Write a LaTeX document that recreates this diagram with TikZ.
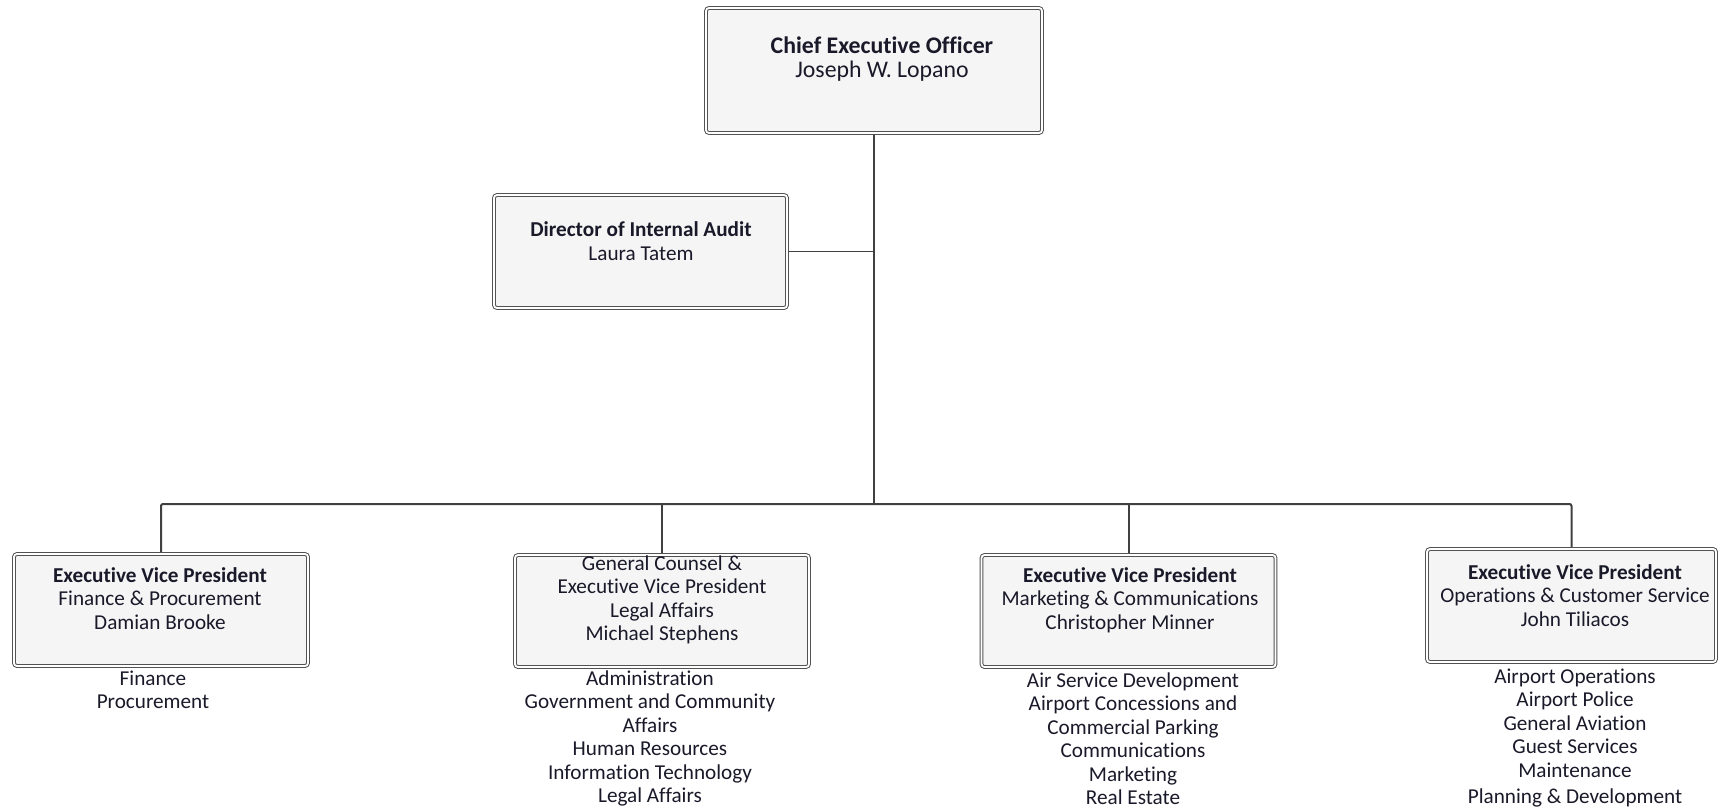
\documentclass[tikz,border=0pt]{standalone}
\usepackage{fontspec}
\setmainfont{Carlito}[Ligatures=NoCommon]
\usetikzlibrary{positioning,backgrounds}

\begin{document}
\begin{tikzpicture}[x=0.5pt,y=-0.5pt]

            \useasboundingbox (0,0) rectangle (1720,809);

            % DEF COORDINATES
            \coordinate (c_ceo) at (874,70.5);
            \coordinate (c_audit) at (640.5,251.5);
            \coordinate (c_evp1) at (161,610);
            \coordinate (c_evp2) at (662,611);
            \coordinate (c_evp3) at (1128.5,611);
            \coordinate (c_evp4) at (1571.5,605.5);
            \coordinate (bustop) at (874,504);

            % COLORS
            \definecolor{boxedgecolor}{rgb}{0.32,0.32,0.32}
            \definecolor{boxfillcolor}{rgb}{0.96,0.96,0.96}
            \definecolor{edgecolor}{rgb}{0.25,0.25,0.25}
            \definecolor{textcolor}{rgb}{0.1,0.1,0.16}

            % DEF STYLES
            \tikzstyle{boxstyle} = [draw=boxedgecolor, line width=0.5pt, double=white, double distance=0.9pt, rounded corners=1.5pt, fill=boxfillcolor, minimum width=147pt, minimum height=56pt, inner sep=0pt]
            \tikzstyle{textstyle} = [align=center, inner sep=0pt, text=textcolor, font=\fontsize{10.6}{11.75}\selectfont]
            \tikzstyle{edgestyle} = [line width=1pt, color=edgecolor, rounded corners=1pt]

            % BOXES
            \node[boxstyle, minimum width=168pt, minimum height=62.5pt] (ceo) at (c_ceo) {};
            \node[boxstyle, minimum width=146.5pt, minimum height=56.5pt] (audit) at (c_audit) {};
            \foreach \i in {1,2,3} {
              \node[boxstyle] (evp\i) at (c_evp\i) {};
            }
            \node[boxstyle, minimum width=144.5pt, minimum height=56.5pt] (evp4) at (c_evp4) {};

            % BOX TEXTS
            \node[textstyle, font=\fontsize{11.9}{12}\selectfont] (t_ceo) at (882,59) {\textbf{Chief Executive Officer}\\Joseph W. Lopano};
            \node[textstyle] (t_audit) at (641,241) {\textbf{Director of Internal Audit}\\Laura Tatem};
            \node[textstyle] (t_evp1) at (160,598.5) {\textbf{Executive Vice President}\\Finance \& Procurement\\Damian Brooke};
            \node[textstyle] (t_evp2) at (662,600) {General Counsel \&\\Executive Vice President\\Legal Affairs\\Michael Stephens};
            \node[textstyle] (t_evp3) at (1130,600) {\textbf{Executive Vice President}\\Marketing \& Communications\\Christopher Minner};
            \node[textstyle] (t_evp4) at (1575,595.5) {\textbf{Executive Vice President}\\Operations \& Customer Service\\John Tiliacos};

            % DEPARTMENTS
            \node[textstyle] (d_evp1) at (153,690) {Finance\\Procurement};
            \node[textstyle] (d_evp2) at (650,738.5) {Administration\\Government and Community\\Affairs\\Human Resources\\Information Technology\\Legal Affairs};
            \node[textstyle] (d_evp3) at (1133,738.5) {Air Service Development\\Airport Concessions and\\Commercial Parking\\Communications\\Marketing\\Real Estate};
            \node[textstyle] (d_evp4) at (1575,738) {Airport Operations\\Airport Police\\General Aviation\\Guest Services\\Maintenance\\[1.5pt]Planning \& Development};

            % EDGES
            \begin{scope}[on background layer]
              \draw[edgestyle, line width=1.3pt] (ceo.south) -- (bustop);
              \draw[edgestyle, line width=0.6pt] (audit.east) -- (audit.east -| ceo.south);
              \draw[edgestyle] (evp1.north) |- (bustop) -| (evp4.north);
              \foreach \i in {2,3} {
                \draw[edgestyle] (evp\i.north) -- (evp\i.north |- bustop);
              }
            \end{scope}

          \end{tikzpicture}
\end{document}
